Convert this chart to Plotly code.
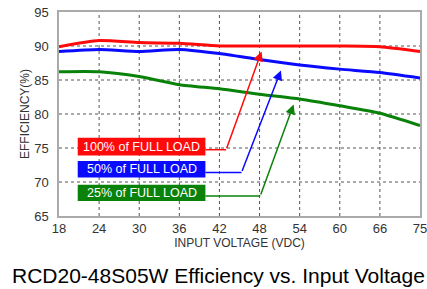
import plotly.graph_objects as go

# Data (x in axis-position units; the last tick position is labelled "75")
voltage_pos = [18, 24, 30, 36, 42, 48, 54, 60, 66, 72]
tick_labels = ["18", "24", "30", "36", "42", "48", "54", "60", "66", "75"]
eff_ticks = [65, 70, 75, 80, 85, 90, 95]
eff_100 = [89.9, 90.8, 90.5, 90.4, 90.0, 90.0, 90.0, 90.0, 89.9, 89.2]
eff_50 = [89.2, 89.5, 89.2, 89.5, 88.9, 88.0, 87.2, 86.6, 86.1, 85.3]
eff_25 = [86.2, 86.2, 85.5, 84.3, 83.7, 82.9, 82.2, 81.2, 80.1, 78.3]
series_names = ["100% of FULL LOAD", "50% of FULL LOAD", "25% of FULL LOAD"]

RED, BLUE, GREEN = "#ff0a0a", "#0a0aff", "#0a820a"
colors = [RED, BLUE, GREEN]

fig = go.Figure()
for name, ys, c in zip(series_names, [eff_100, eff_50, eff_25], colors):
    fig.add_trace(go.Scatter(x=voltage_pos, y=ys, mode="lines", name=name,
                             line=dict(color=c, width=3, shape="spline", smoothing=0.6),
                             showlegend=False, hoverinfo="skip"))

shapes = []
annotations = []

# dotted grid lines drawn as layout shapes at the tick values
grid_line = dict(color="#555555", width=1, dash="dot")
for v in eff_ticks[1:-1]:
    shapes.append(dict(type="line", xref="paper", yref="y", x0=0, x1=1, y0=v, y1=v,
                       line=grid_line, layer="below"))
for v in voltage_pos[1:-1]:
    shapes.append(dict(type="line", xref="x", yref="paper", x0=v, x1=v, y0=0, y1=1,
                       line=grid_line, layer="below"))

# Label boxes and leader arrows (layout)
boxes = [(76.5, 73.9), (73.1, 70.65), (69.6, 67.2)]
corners = [(43.0, 74.75), (45.3, 71.4), (48.1, 67.95)]
tips = [(48.3, 89.2), (51.2, 86.4), (53.1, 81.4)]
box_x0, box_x1 = 20.8, 39.9

for (yt, yb), (cx, cy), (tx, ty), c, name in zip(boxes, corners, tips, colors, series_names):
    shapes.append(dict(type="rect", xref="x", yref="y", x0=box_x0, x1=box_x1, y0=yb, y1=yt,
                       fillcolor=c, line=dict(width=0), layer="above"))
    shapes.append(dict(type="line", xref="x", yref="y", x0=box_x1, x1=cx, y0=cy, y1=cy,
                       line=dict(color=c, width=1.5), layer="above"))
    annotations.append(dict(x=(box_x0 + box_x1) / 2, y=(yt + yb) / 2, xref="x", yref="y",
                            text=name, showarrow=False,
                            font=dict(family="Liberation Sans, Arial", size=12.5, color="white")))
    annotations.append(dict(x=tx, y=ty, ax=cx, ay=cy, xref="x", yref="y", axref="x", ayref="y",
                            text="", showarrow=True, arrowhead=2, arrowsize=1.3, arrowwidth=1.5,
                            arrowcolor=c, standoff=0))

annotations.append(dict(x=0.5, y=0, xref="paper", yref="paper", yshift=-59, xshift=-21,
                        text="RCD20-48S05W Efficiency vs. Input Voltage", showarrow=False,
                        font=dict(family="Liberation Sans, Arial", size=21, color="black"),
                        yanchor="middle"))

fig.update_layout(
    width=427, height=289,
    margin=dict(l=58.5, r=7.3, t=12, b=72.5),
    paper_bgcolor="white", plot_bgcolor="white",
    font=dict(family="Liberation Sans, Arial", size=12, color="#333333"),
    shapes=shapes, annotations=annotations,
    xaxis=dict(range=[18, 72], tickvals=voltage_pos, ticktext=tick_labels, showgrid=False,
               showline=True, linecolor="#aaaaaa", linewidth=1.5, mirror=True,
               ticks="", zeroline=False, tickfont=dict(size=13, color="#333333"),
               automargin=False, ticklabeloverflow="allow",
               title=dict(text="INPUT VOLTAGE (VDC)", standoff=2,
                          font=dict(size=12, color="#333333"))),
    yaxis=dict(range=[65, 95], tickvals=eff_ticks, showgrid=False,
               showline=True, linecolor="#aaaaaa", linewidth=1.5, mirror=True,
               ticks="", zeroline=False, tickfont=dict(size=13, color="#333333"),
               ticklabelstandoff=6, automargin=False, ticklabeloverflow="allow",
               title=dict(text="EFFICIENCY(%)", standoff=2,
                          font=dict(size=12, color="#333333"))),
)

# remove the default page margin so the figure sits at the window's top-left corner
fig.write_html("out.html", config={"displayModeBar": False},
               post_script="document.body.style.margin='0px';")
